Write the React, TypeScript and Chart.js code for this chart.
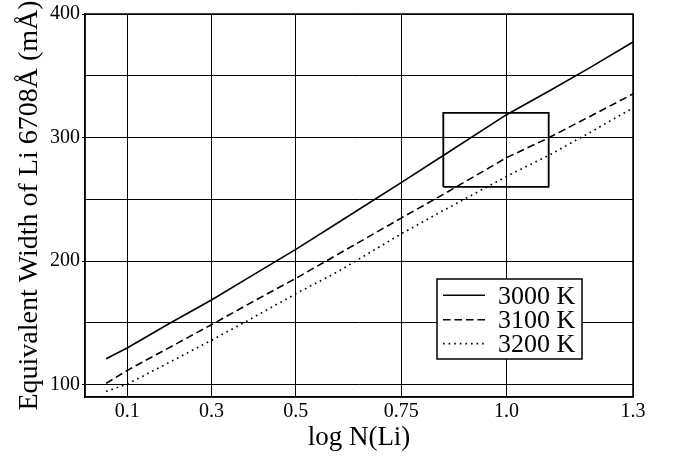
import React, { useEffect, useRef } from 'react';
import { Chart, registerables } from 'chart.js';

Chart.register(...registerables);

// ---- data ----
const logN = [0.05, 0.1, 0.2, 0.3, 0.4, 0.5, 0.6, 0.75, 0.85, 1.0, 1.1, 1.2, 1.3];
const ew3000 = [121, 129.7, 149.5, 168.5, 189, 209.5, 231, 263.5, 285.5, 318.5, 337.5, 357, 377.3];
const ew3100 = [101, 111.5, 130, 148.5, 167.5, 186, 205.5, 234.8, 254, 283.7, 299.8, 317.5, 335.3];
const ew3200 = [94.5, 100.4, 118, 135.9, 154.5, 173.5, 191.5, 222, 241, 268.5, 285.5, 304.5, 324];
const seriesLabels = ['3000 K', '3100 K', '3200 K'];
const boxX = [0.85, 1.1, 1.1, 0.85, 0.85];
const boxY = [260, 260, 320, 320, 260];
const xTickValues = [0.1, 0.3, 0.5, 0.75, 1.0, 1.3];
const xTickLabels = ['0.1', '0.3', '0.5', '0.75', '1.0', '1.3'];
const yGridValues = [100, 150, 200, 250, 300, 350, 400];
const yLabelValues = [100, 200, 300, 400];
const xTitle = 'log N(Li)';
const yTitle = 'Equivalent Width of Li 6708Å (mÅ)';

const SERIF = '"Liberation Serif", "Times New Roman", Times, serif';

const toPoints = (xs: number[], ys: number[]) => xs.map((x, i) => ({ x, y: ys[i] }));

const framePlugin = {
  id: 'frameAndLegend',
  afterDatasetsDraw(chart: any) {
    const { ctx, chartArea: a } = chart;
    ctx.save();
    // legend box
    const lx = a.right - 196;
    const ly = a.top + 265;
    const lw = 145;
    const lh = 80;
    ctx.fillStyle = '#fff';
    ctx.fillRect(lx, ly, lw, lh);
    ctx.strokeStyle = '#000';
    ctx.lineWidth = 1.5;
    ctx.strokeRect(lx, ly, lw, lh);
    const lineYs = [16.3, 40.7, 64.7];
    const baseYs = [24.7, 49, 73];
    ctx.font = `26px ${SERIF}`;
    ctx.textBaseline = 'alphabetic';
    ctx.textAlign = 'left';
    for (let i = 0; i < seriesLabels.length; i++) {
      const ds = chart.data.datasets[i];
      ctx.beginPath();
      ctx.setLineDash(ds.borderDash || []);
      ctx.lineWidth = ds.borderWidth;
      ctx.strokeStyle = ds.borderColor;
      ctx.moveTo(lx + 6, ly + lineYs[i]);
      ctx.lineTo(lx + 48, ly + lineYs[i]);
      ctx.stroke();
      ctx.setLineDash([]);
      ctx.fillStyle = '#000';
      ctx.fillText(seriesLabels[i], lx + 61, ly + baseYs[i]);
    }
    // frame
    ctx.strokeStyle = '#000';
    ctx.lineWidth = 1.5;
    ctx.strokeRect(a.left, a.top, a.right - a.left, a.bottom - a.top);
    ctx.restore();
  },
};

export default function App() {
  const ref = useRef<HTMLCanvasElement | null>(null);

  useEffect(() => {
    if (!ref.current) return;
    Chart.defaults.color = '#000';
    const chart = new Chart(ref.current, {
      type: 'scatter',
      data: {
        datasets: [
          {
            label: seriesLabels[0],
            data: toPoints(logN, ew3000),
            showLine: true,
            borderColor: '#000',
            borderWidth: 1.6,
            pointRadius: 0,
            fill: false,
          },
          {
            label: seriesLabels[1],
            data: toPoints(logN, ew3100),
            showLine: true,
            borderColor: '#000',
            borderWidth: 1.6,
            borderDash: [7.5, 4],
            pointRadius: 0,
            fill: false,
          },
          {
            label: seriesLabels[2],
            data: toPoints(logN, ew3200),
            showLine: true,
            borderColor: '#000',
            borderWidth: 1.7,
            borderDash: [1.6, 4],
            pointRadius: 0,
            fill: false,
          },
          {
            label: 'box',
            data: toPoints(boxX, boxY),
            showLine: true,
            borderColor: '#000',
            borderWidth: 1.8,
            pointRadius: 0,
            fill: false,
          },
        ],
      } as any,
      options: {
        animation: false,
        responsive: false,
        events: [],
        layout: { padding: { left: 0, right: 41, top: 12, bottom: 0 } },
        plugins: {
          legend: { display: false },
          tooltip: { enabled: false },
        },
        scales: {
          x: {
            type: 'linear',
            min: 0,
            max: 1.3,
            afterBuildTicks: (scale: any) => {
              scale.ticks = xTickValues.map((v) => ({ value: v }));
            },
            afterFit: (scale: any) => {
              scale.height = 60;
            },
            grid: { color: '#000', lineWidth: 1, drawTicks: false },
            border: { display: true, color: '#000', width: 1.5 },
            ticks: {
              autoSkip: false,
              maxRotation: 0,
              padding: 3,
              font: { family: SERIF, size: 20 },
              color: '#000',
              callback: (value: any) => {
                const i = xTickValues.findIndex((v) => Math.abs(v - Number(value)) < 1e-9);
                return i >= 0 ? xTickLabels[i] : '';
              },
            },
            title: {
              display: true,
              text: xTitle,
              color: '#000',
              font: { family: SERIF, size: 27 },
              padding: { top: 0, bottom: 3 },
            },
          },
          y: {
            type: 'linear',
            min: 90,
            max: 400,
            afterBuildTicks: (scale: any) => {
              scale.ticks = yGridValues.map((v) => ({ value: v }));
            },
            afterFit: (scale: any) => {
              scale.width = 85;
            },
            grid: {
              color: '#000',
              lineWidth: 1,
              drawTicks: true,
              tickLength: 3,
              tickColor: (c: any) =>
                c.tick && yLabelValues.includes(c.tick.value) ? '#000' : 'rgba(0,0,0,0)',
            },
            border: { display: true, color: '#000', width: 1.5 },
            ticks: {
              autoSkip: false,
              padding: 2,
              font: { family: SERIF, size: 20 },
              color: '#000',
              callback: (value: any) =>
                yLabelValues.includes(Number(value)) ? String(value) : '',
            },
            title: {
              display: true,
              text: yTitle,
              color: '#000',
              font: { family: SERIF, size: 28 },
              padding: { top: 13, bottom: 0 },
            },
          },
        },
      } as any,
      plugins: [framePlugin],
    });
    return () => chart.destroy();
  }, []);

  return (
    <div style={{ position: 'absolute', left: 0, top: 0, width: 674, height: 457, background: '#fff' }}>
      <canvas ref={ref} width={674} height={457} style={{ display: 'block' }} />
    </div>
  );
}
